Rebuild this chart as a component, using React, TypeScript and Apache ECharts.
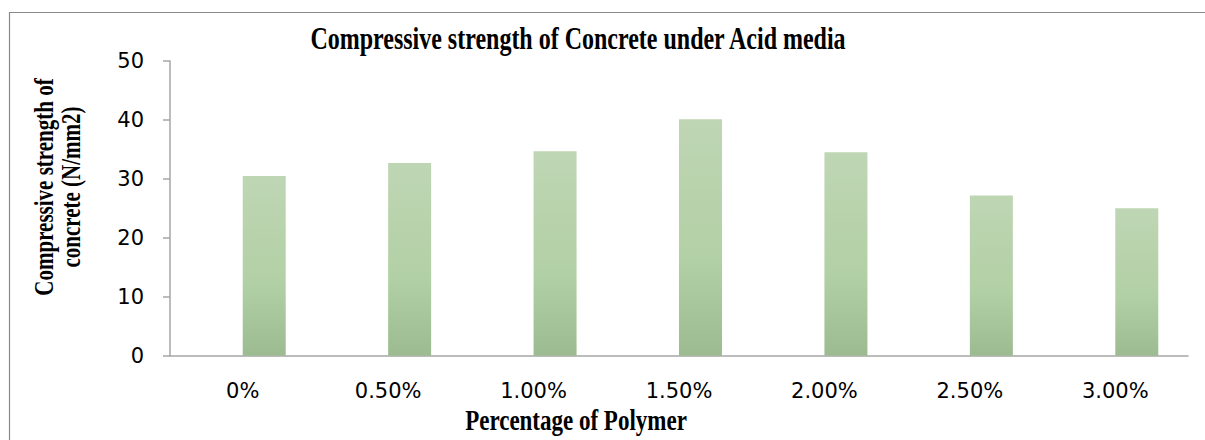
import React, { useEffect, useRef } from "react";
import * as echarts from "echarts";

const categories = ["0%", "0.50%", "1.00%", "1.50%", "2.00%", "2.50%", "3.00%"];
const strengthValues = [30.5, 32.7, 34.7, 40.1, 34.5, 27.2, 25.0];
const emptyValues = ["-", "-", "-", "-", "-", "-", "-"];
const yTicks = { min: 0, max: 50, interval: 10 };

const titleText = "Compressive strength of Concrete under Acid media";
const yName = "Compressive strength of\nconcrete (N/mm2)";
const xName = "Percentage of Polymer";

export default function App() {
  const ref = useRef<HTMLDivElement>(null);
  useEffect(() => {
    if (!ref.current) return;
    const chart = echarts.init(ref.current, null, { renderer: "svg" });
    const serif = "'Liberation Serif', 'Times New Roman', serif";
    const sans = "'DejaVu Sans', sans-serif";
    const stretch = 1.28;
    chart.setOption({
      animation: false,
      backgroundColor: "#ffffff",
      grid: { left: 170, right: 17, top: 61, bottom: 84.3 },
      graphic: [
        {
          type: "rect",
          shape: { x: 9.5, y: 12.5, width: 1210, height: 440 },
          style: { fill: "none", stroke: "#8a8a8a", lineWidth: 1.2 },
          silent: true,
        },
        {
          type: "text",
          x: 578,
          y: 38,
          scaleY: stretch,
          style: {
            text: titleText,
            font: `bold 24px ${serif}`,
            fill: "#000",
            align: "center",
            verticalAlign: "middle",
          },
        },
        {
          type: "text",
          x: 57.5,
          y: 187,
          rotation: Math.PI / 2,
          scaleY: stretch,
          style: {
            text: yName,
            font: `bold 21px ${serif}`,
            fill: "#000",
            align: "center",
            verticalAlign: "middle",
            lineHeight: 21,
          },
        },
        {
          type: "text",
          x: 576,
          y: 420,
          scaleY: stretch,
          style: {
            text: xName,
            font: `bold 23px ${serif}`,
            fill: "#000",
            align: "center",
            verticalAlign: "middle",
          },
        },
      ],
      xAxis: {
        type: "category",
        data: categories,
        axisLine: { show: true, lineStyle: { color: "#a6a6a6", width: 1.5 } },
        axisTick: { show: false },
        axisLabel: { color: "#000", fontFamily: sans, fontSize: 21, margin: 25 },
      },
      yAxis: {
        type: "value",
        min: yTicks.min,
        max: yTicks.max,
        interval: yTicks.interval,
        splitLine: { show: false },
        axisLine: { show: true, lineStyle: { color: "#a6a6a6", width: 1.5 } },
        axisTick: { show: true, inside: false, length: 7, lineStyle: { color: "#a6a6a6", width: 1.5 } },
        axisLabel: { color: "#000", fontFamily: sans, fontSize: 21, margin: 26 },
      },
      series: [
        {
          type: "bar",
          data: emptyValues,
          barWidth: 43,
          barGap: "0%",
          itemStyle: { color: "transparent" },
        },
        {
          type: "bar",
          data: strengthValues,
          barWidth: 43,
          barGap: "0%",
          itemStyle: {
            color: new echarts.graphic.LinearGradient(0, 0, 0, 1, [
              { offset: 0, color: "#bfd6b4" },
              { offset: 0.6, color: "#b2d0a5" },
              { offset: 1, color: "#9dbb90" },
            ]),
          },
        },
      ],
    });
    return () => chart.dispose();
  }, []);
  return (
    <div
      ref={ref}
      style={{ position: "fixed", left: 0, top: 0, width: 1205, height: 440 }}
    />
  );
}
